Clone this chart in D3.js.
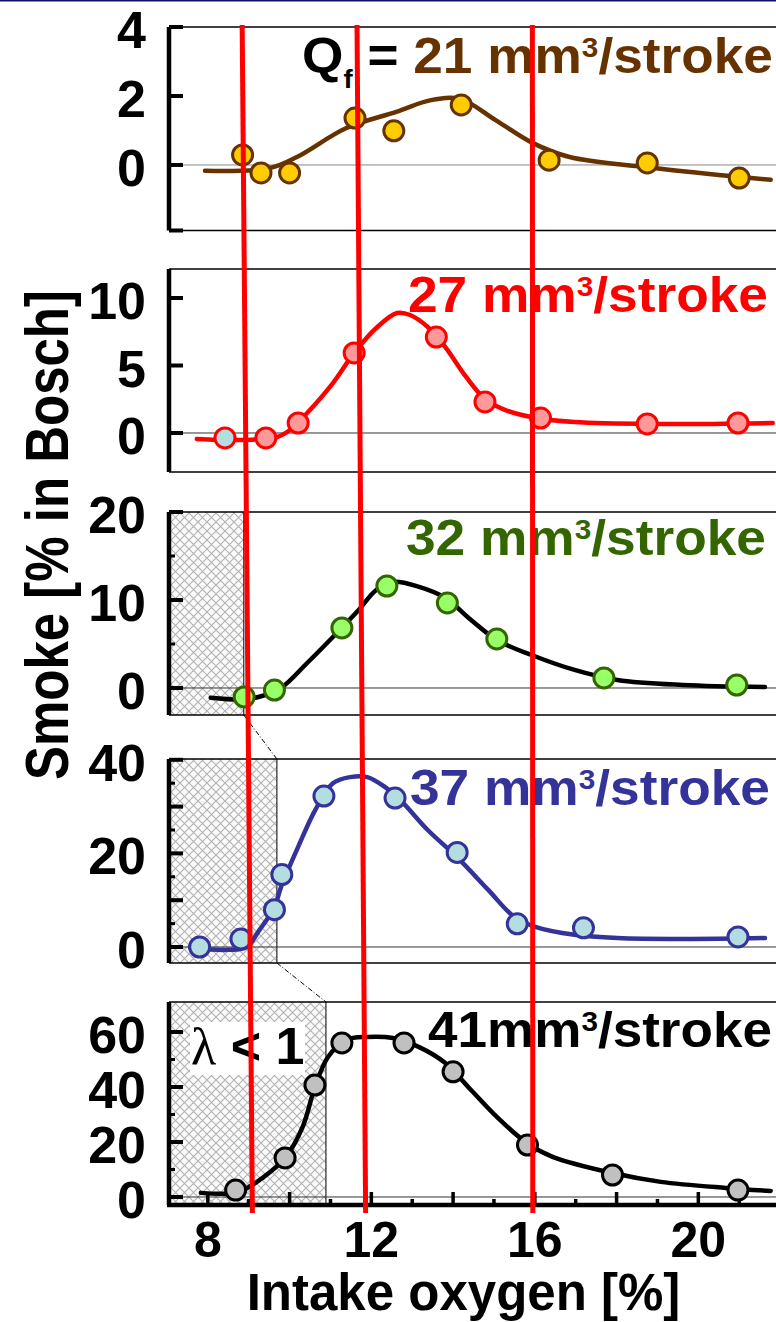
<!DOCTYPE html>
<html>
<head>
<meta charset="utf-8">
<script src="https://cdn.jsdelivr.net/npm/d3@7"></script>
<style>
  html, body { margin: 0; padding: 0; background: #fff; }
  svg { display: block; }
  text { font-family: "Liberation Sans", Arial, sans-serif; font-weight: bold; }
</style>
</head>
<body>
<svg id="chart" width="776" height="1322"></svg>
<script>
// ---- Data: smoke [% Bosch] vs intake oxygen [%] for five fuel quantities ----
const fuelRates = ["21", "27", "32", "37", "41"];

const o2TickLabels = [8, 12, 16, 20];
const o2SmallTicks = [9, 11, 13, 15, 17, 19, 21];
const o2LargeTicks = [8, 10, 12, 14, 16, 18, 20];

// measured points [O2 %, smoke %]
const q21Points = [[8.85, 0.29], [9.3, -0.23], [10.0, -0.23], [11.6, 1.36], [12.55, 0.99],
                   [14.2, 1.74], [16.35, 0.14], [18.75, 0.06], [21.0, -0.38]];
const q27Points = [[8.42, -0.37], [9.42, -0.37], [10.21, 0.74], [11.58, 5.93], [13.59, 7.11],
                   [14.78, 2.30], [16.14, 1.11], [18.75, 0.67], [20.97, 0.74]];
const q32Points = [[8.89, -1.02], [9.63, -0.23], [11.28, 6.82], [12.38, 11.59], [13.86, 9.66],
                   [15.07, 5.57], [17.69, 1.14], [20.94, 0.34]];
const q37Points = [[7.80, 0.0], [8.81, 1.72], [9.63, 7.96], [9.81, 15.48], [10.84, 32.26],
                   [12.58, 31.83], [14.10, 20.2], [15.57, 4.95], [17.19, 4.09], [20.97, 2.15]];
const q41Points = [[8.68, 2.5], [9.89, 14.2], [10.62, 40.7], [11.28, 56.0], [12.80, 56.0],
                   [14.0, 45.5], [15.82, 18.9], [17.90, 8.0], [20.97, 2.5]];

// fitted trend curves [O2 %, smoke %]
const q21Curve = [[7.93, -0.17], [9.52, -0.09], [10.18, 0.23], [11.39, 1.07], [12.61, 1.54],
                  [13.46, 1.88], [14.18, 1.91], [15.04, 1.30], [15.94, 0.64], [16.85, 0.23],
                  [18.68, -0.06], [20.5, -0.29], [21.77, -0.43]];
const q27Curve = [[7.73, -0.44], [8.83, -0.52], [9.69, -0.30], [10.01, 0.22], [10.43, 1.48],
                  [11.06, 3.70], [11.58, 5.93], [12.12, 7.78], [12.63, 8.89], [12.95, 8.74],
                  [13.38, 7.85], [13.81, 6.37], [14.32, 4.15], [14.81, 2.44], [15.28, 1.70],
                  [15.91, 1.19], [16.97, 0.81], [19.08, 0.67], [21.82, 0.74]];
const q32Curve = [[8.07, -1.1], [8.83, -1.3], [9.26, -1.0], [9.79, 0.0], [10.43, 2.84],
                  [11.06, 5.80], [11.69, 8.86], [12.12, 11.14], [12.53, 12.05], [13.17, 11.48],
                  [13.81, 10.23], [14.44, 7.73], [15.07, 5.45], [15.92, 3.75], [16.97, 2.05],
                  [18.02, 0.91], [19.62, 0.34], [21.63, 0.11]];
const q37Curve = [[7.57, -0.2], [8.51, -0.6], [8.95, 0.0], [9.26, 3.6], [9.63, 8.5],
                  [9.79, 12.8], [10.21, 21.4], [10.63, 29.3], [11.06, 35.0], [11.48, 36.3],
                  [11.90, 36.3], [12.33, 34.2], [12.75, 31.0], [13.38, 25.0], [14.12, 19.0],
                  [14.86, 12.2], [15.50, 6.4], [16.01, 4.3], [16.97, 2.6], [18.02, 1.9],
                  [19.62, 1.7], [21.63, 1.9]];
const q41Curve = [[7.83, 1.5], [8.74, 1.8], [9.37, 7.3], [9.89, 14.2], [10.32, 25.5],
                  [10.62, 40.0], [10.94, 50.9], [11.38, 57.1], [11.90, 58.2], [12.53, 57.8],
                  [13.17, 54.5], [13.81, 48.7], [14.44, 38.9], [15.07, 29.1], [15.81, 19.6],
                  [16.45, 14.5], [17.90, 8.7], [19.08, 5.5], [20.67, 3.3], [21.77, 2.2]];

// smoke axis ranges and ticks per panel
const smokeDomains = [[-1.9, 4], [-2.89, 12.15], [-3.07, 20], [-3.42, 40.17], [-2.91, 70.9]];
const smokeLabelTicks = [[0, 2, 4], [0, 5, 10], [0, 10, 20], [0, 20, 40], [0, 20, 40, 60]];
const smokeLongTicks = [[-1.9, 0, 2, 4], [0, 5, 10], [0, 10, 20], [0, 10, 20, 30, 40], [0, 20, 40, 60]];
const smokeShortTicks = [[], [], [5, 15], [5, 15, 25, 35], [10, 30, 50]];

// rich-mixture (lambda < 1) limit in O2 % for each panel
const lambdaLimitO2 = [null, null, 8.88, 9.69, 10.89];

// marker lines, O2 % at top and at bottom of the figure
const markerO2 = [[8.84, 9.09], [11.65, 11.86], [15.94, 15.95]];

// ---- Layout & style ----
const plotLeft = 169, plotRight = 776;
const panelTop = [27, 269, 512, 759, 1002];
const panelBottom = [230.5, 472, 715, 963, 1205];
const lineColors = ["#663300", "#ff0000", "#000000", "#333399", "#000000"];
const dotFills = ["#ffcc00", "#ff9999", "#99ff66", "#b3dde0", "#c0c0c0"];
const dotStrokes = ["#663300", "#ff0000", "#336600", "#333399", "#000000"];
const labelColors = ["#663300", "#ff0000", "#336600", "#333399", "#000000"];
const labelLeft = [302, 408, 406, 410, 428];
const labelRight = [773, 768, 766, 770, 772];
const labelBaseline = [73, 312, 555, 805, 1047];

const pointSets = [q21Points, q27Points, q32Points, q37Points, q41Points];
const curveSets = [q21Curve, q27Curve, q32Curve, q37Curve, q41Curve];

const svg = d3.select("#chart");
const x = d3.scaleLinear().domain([7.05, 21.9]).range([plotLeft, plotRight]);

// crosshatch fill for the rich-mixture region
const defs = svg.append("defs");
const pat = defs.append("pattern").attr("id", "xhatch")
  .attr("patternUnits", "userSpaceOnUse").attr("width", 9).attr("height", 9);
pat.append("rect").attr("width", 9).attr("height", 9).attr("fill", "#fbfbfb");
pat.append("path")
  .attr("d", "M-1,-1L10,10M10,-1L-1,10")
  .attr("stroke", "#b2b2b2").attr("stroke-width", 1.1).attr("fill", "none");

svg.append("rect").attr("width", 776).attr("height", 1322).attr("fill", "#fff");

const yScales = smokeDomains.map((d, i) =>
  d3.scaleLinear().domain(d).range([panelBottom[i], panelTop[i]]));

const line = d3.line().x(d => x(d[0])).y(d => d[1]).curve(d3.curveCatmullRom.alpha(0.5));

// fit a text element's width between two x positions (left edge at x0)
function fitBetween(textSel, x0, x1, baseline) {
  const bb = textSel.node().getBBox();
  const k = (x1 - x0) / bb.width;
  textSel.attr("transform", `translate(${x0 - bb.x * k},${baseline}) scale(${k},1)`);
}

fuelRates.forEach((q, i) => {
  const y = yScales[i];
  const g = svg.append("g");
  const top = panelTop[i], bot = panelBottom[i];

  // hatched lambda < 1 region
  if (lambdaLimitO2[i] !== null) {
    g.append("rect")
      .attr("x", plotLeft).attr("y", top)
      .attr("width", x(lambdaLimitO2[i]) - plotLeft).attr("height", bot - top)
      .attr("fill", "url(#xhatch)");
    g.append("line")
      .attr("x1", x(lambdaLimitO2[i])).attr("x2", x(lambdaLimitO2[i]))
      .attr("y1", top).attr("y2", bot)
      .attr("stroke", "#000").attr("stroke-width", 1);
  }

  // frame lines and zero line
  g.append("line").attr("x1", plotLeft).attr("x2", plotRight)
    .attr("y1", top).attr("y2", top).attr("stroke", "#000").attr("stroke-width", 1.3);
  g.append("line").attr("x1", plotLeft).attr("x2", plotRight)
    .attr("y1", bot).attr("y2", bot).attr("stroke", "#000").attr("stroke-width", 1.6);
  g.append("line").attr("x1", plotLeft).attr("x2", plotRight)
    .attr("y1", y(0)).attr("y2", y(0))
    .attr("stroke", i === 0 ? "#888" : "#333").attr("stroke-width", 1);

  // smoke axis
  g.append("line").attr("x1", plotLeft).attr("x2", plotLeft)
    .attr("y1", top).attr("y2", bot).attr("stroke", "#000").attr("stroke-width", 4.5);
  g.selectAll(".lt").data(smokeLongTicks[i]).enter().append("line")
    .attr("x1", plotLeft).attr("x2", plotLeft + 14)
    .attr("y1", d => y(d)).attr("y2", d => y(d))
    .attr("stroke", "#000").attr("stroke-width", 4);
  g.selectAll(".st").data(smokeShortTicks[i]).enter().append("line")
    .attr("x1", plotLeft).attr("x2", plotLeft + 6)
    .attr("y1", d => y(d)).attr("y2", d => y(d))
    .attr("stroke", "#000").attr("stroke-width", 3);
  g.selectAll(".tl").data(smokeLabelTicks[i]).enter().append("text")
    .attr("x", 146).attr("y", d => y(d) + 21)
    .attr("text-anchor", "end").attr("font-size", 52).attr("fill", "#000")
    .text(d => d);

  // trend curve
  g.append("path").datum(curveSets[i].map(d => [d[0], y(d[1])]))
    .attr("d", line).attr("fill", "none")
    .attr("stroke", lineColors[i]).attr("stroke-width", 4.5)
    .attr("stroke-linecap", "round").attr("stroke-linejoin", "round");

  // measured points
  g.selectAll(".pt").data(pointSets[i]).enter().append("circle")
    .attr("cx", d => x(d[0])).attr("cy", d => y(d[1])).attr("r", 10)
    .attr("fill", (d, j) => (i === 1 && j === 0) ? "#b3dde0" : dotFills[i])
    .attr("stroke", dotStrokes[i]).attr("stroke-width", 3);

  // fuel quantity label
  const t = g.append("text").attr("font-size", 50).attr("x", 0).attr("y", 0);
  if (i === 0) {
    t.append("tspan").attr("fill", "#000").text("Q");
    t.append("tspan").attr("fill", "#000").attr("font-size", 26).attr("dy", 15).text("f");
    t.append("tspan").attr("fill", "#000").attr("font-size", 50).attr("dy", -15).text(" = ");
  }
  t.append("tspan").attr("fill", labelColors[i])
    .text(i === 4 ? q + "mm" : q + " mm");
  t.append("tspan").attr("fill", labelColors[i]).attr("font-size", 28).attr("dy", -16).text("3");
  t.append("tspan").attr("fill", labelColors[i]).attr("font-size", 50).attr("dy", 16).text("/stroke");
  fitBetween(t, labelLeft[i], labelRight[i], labelBaseline[i]);
});

// dashed guides linking the lambda = 1 limits of adjacent panels
const guides = [[2, 3], [3, 4]];
svg.selectAll(".guide").data(guides).enter().append("line")
  .attr("x1", d => x(lambdaLimitO2[d[0]])).attr("y1", d => panelBottom[d[0]])
  .attr("x2", d => x(lambdaLimitO2[d[1]])).attr("y2", d => panelTop[d[1]])
  .attr("stroke", "#000").attr("stroke-width", 1)
  .attr("stroke-dasharray", "5,2,1,2");

// O2 axis along the bottom panel
const axisY = panelBottom[4];
svg.append("line").attr("x1", plotLeft - 2).attr("x2", plotRight)
  .attr("y1", axisY).attr("y2", axisY).attr("stroke", "#000").attr("stroke-width", 4.5);
svg.selectAll(".xlt").data(o2LargeTicks).enter().append("line")
  .attr("x1", d => x(d)).attr("x2", d => x(d))
  .attr("y1", axisY).attr("y2", axisY - 13)
  .attr("stroke", "#000").attr("stroke-width", 3.5);
svg.selectAll(".xst").data(o2SmallTicks).enter().append("line")
  .attr("x1", d => x(d)).attr("x2", d => x(d))
  .attr("y1", axisY).attr("y2", axisY - 6)
  .attr("stroke", "#000").attr("stroke-width", 3.5);
svg.selectAll(".xtl").data(o2TickLabels).enter().append("text")
  .attr("x", d => x(d)).attr("y", 1257)
  .attr("text-anchor", "middle").attr("font-size", 50).attr("fill", "#000")
  .text(d => d);

// lambda < 1 tag
svg.append("rect").attr("x", 190).attr("y", 1022).attr("width", 115).attr("height", 53)
  .attr("fill", "#fff");
const lam = svg.append("text").attr("x", 191).attr("y", 1064).attr("font-size", 52);
lam.append("tspan").style("font-family", "'Liberation Serif', 'DejaVu Serif', serif")
  .style("font-weight", "normal").text("λ");
lam.append("tspan").text(" < 1");

// axis titles
svg.append("text").attr("x", 463.5).attr("y", 1310)
  .attr("text-anchor", "middle").attr("font-size", 51).attr("fill", "#000")
  .text("Intake oxygen [%]");
const yTitle = svg.append("text").attr("font-size", 62).attr("fill", "#000")
  .attr("text-anchor", "middle").text("Smoke [% in Bosch]");
const yLen = yTitle.node().getComputedTextLength();
yTitle.attr("transform", `translate(68,535) rotate(-90) scale(${490 / yLen},1)`);

// red marker lines across all panels
svg.selectAll(".marker").data(markerO2).enter().append("line")
  .attr("x1", d => x(d[0])).attr("y1", 25)
  .attr("x2", d => x(d[1])).attr("y2", 1213)
  .attr("stroke", "#ff0000").attr("stroke-width", 5);

// top rule
svg.append("rect").attr("x", 0).attr("y", 0).attr("width", 776).attr("height", 1.5)
  .attr("fill", "#10106a");
</script>
</body>
</html>
